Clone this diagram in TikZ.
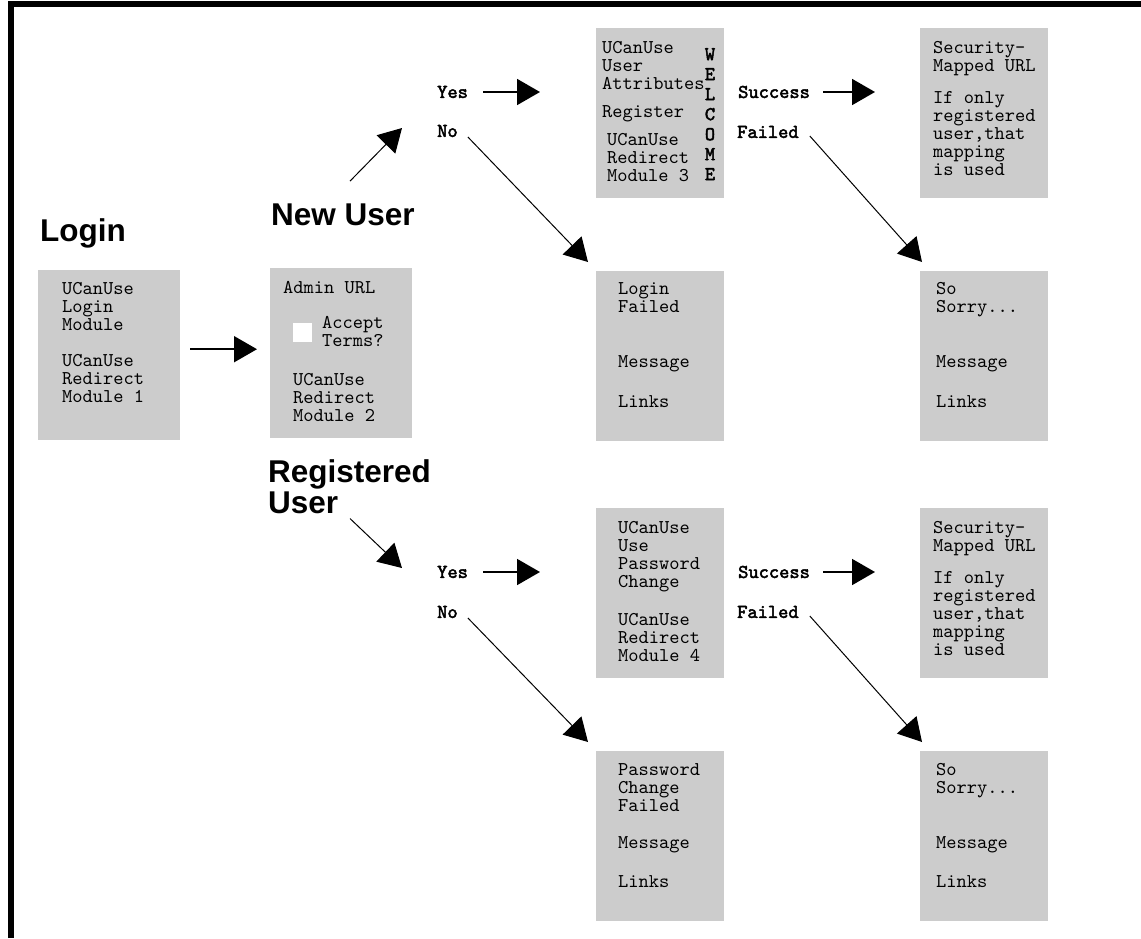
\documentclass[tikz,border=0pt]{standalone}
\usepackage{fontspec}
\setsansfont{Liberation Sans}
\setmonofont{lmmono10-regular.otf}
\newfontfamily\monobold{lmmono10-regular.otf}[FakeBold=2.5]
\usetikzlibrary{arrows.meta}
\definecolor{boxgray}{RGB}{204,204,204}
\begin{document}
\begin{tikzpicture}[x=1pt,y=-1pt,>={Triangle[length=23pt,width=26pt]},
	box/.style={fill=boxgray,anchor=north west,inner sep=0pt,minimum width=#1,minimum height=170pt},
	box/.default=128pt,
	txt/.style={anchor=north west,inner sep=0pt,align=left,font=\ttfamily\fontsize{19.5}{18}\selectfont},
	lbl/.style={anchor=west,inner sep=0pt,font=\monobold\fontsize{19.5}{18}\selectfont},
	head/.style={inner sep=0pt,align=left,font=\sffamily\bfseries\fontsize{31.5}{31}\selectfont},
	arr/.style={->,line width=1.8pt},
	thinarr/.style={->,line width=1pt}]
	\useasboundingbox (0,0) rectangle (1141,938);
	\draw[line width=6pt] (11,938)--(11,4)--(1141,4);
	% boxes
	\node[box=142pt] (login) at (38,270) {};
	\node[box=142pt] (admin) at (270,268) {};
	\node[box] (reg) at (596,28) {};
	\node[box] (secA) at (920,28) {};
	\node[box] (lfail) at (596,271) {};
	\node[box] (sorryA) at (920,271) {};
	\node[box] (pwd) at (596,508) {};
	\node[box] (secB) at (920,508) {};
	\node[box] (pfail) at (596,751) {};
	\node[box] (sorryB) at (920,751) {};
	\node[txt] (login-t) at ([shift={(24,12)}]login.north west) {UCanUse\\Login\\Module\\[18pt]UCanUse\\Redirect\\Module 1};
	\node[txt] (admin-t) at ([shift={(13,13)}]admin.north west) {Admin URL};
	\node[fill=white,inner sep=0pt,minimum size=19pt,anchor=north west] (chk) at ([shift={(23,55)}]admin.north west) {};
	\node[txt] (terms) at ([shift={(52,48)}]admin.north west) {Accept\\Terms?};
	\node[txt] (admin-m) at ([shift={(23,105)}]admin.north west) {UCanUse\\Redirect\\Module 2};
	\node[txt] (reg-t) at ([shift={(6,13)}]reg.north west) {UCanUse\\User\\Attributes\\[10pt]Register};
	\node[txt] (reg-m) at ([shift={(11,105)}]reg.north west) {UCanUse\\Redirect\\Module 3};
	\node[txt,anchor=north,align=center,font=\monobold\fontsize{19.5}{20}\selectfont] (welcome) at ([shift={(114,20)}]reg.north west) {W\\E\\L\\C\\O\\M\\E};
	\node[txt] (secA-t) at ([shift={(13,13)}]secA.north west) {Security-\\Mapped URL\\[14pt]If only\\registered\\user,that\\mapping\\is used};
	\node[txt] (lfail-t) at ([shift={(22,11)}]lfail.north west) {Login\\Failed\\[37pt]Message\\[22pt]Links};
	\node[txt] (sorryA-t) at ([shift={(16,11)}]sorryA.north west) {So\\Sorry...\\[37pt]Message\\[22pt]Links};
	\node[txt] (pwd-t) at ([shift={(22,13)}]pwd.north west) {UCanUse\\Use\\Password\\Change\\[20pt]UCanUse\\Redirect\\Module 4};
	\node[txt] (secB-t) at ([shift={(13,13)}]secB.north west) {Security-\\Mapped URL\\[14pt]If only\\registered\\user,that\\mapping\\is used};
	\node[txt] (pfail-t) at ([shift={(22,12)}]pfail.north west) {Password\\Change\\Failed\\[19pt]Message\\[21pt]Links};
	\node[txt] (sorryB-t) at ([shift={(16,12)}]sorryB.north west) {So\\Sorry...\\[37pt]Message\\[21pt]Links};
	% labels
	\node[head,anchor=base west] (login-h) at (40,241) {Login};
	\node[head,anchor=base west] (newu) at (271,225) {New User};
	\node[head,anchor=north west] (regu) at (268,459) {Registered\\User};
	\node[lbl] (yesA) at (437,92) {Yes};
	\node[lbl] (noA) at (437,131) {No};
	\node[lbl] (sucA) at (738,92) {Success};
	\node[lbl] (failA) at (737,132) {Failed};
	\node[lbl] (yesB) at (437,572) {Yes};
	\node[lbl] (noB) at (437,612) {No};
	\node[lbl] (sucB) at (738,572) {Success};
	\node[lbl] (failB) at (737,612) {Failed};
	% arrows
	\draw[arr] ([shift={(10,-6)}]login.east)--([shift={(-13,-6)}]login.east -| admin.west);
	\draw[thinarr] ([shift={(7,-22)}]newu.north)--([shift={(-35,-3)}]noA.west);
	\draw[thinarr] ([shift={(82,5)}]regu.south west)--([shift={(-35,-4)}]yesB.west);
	\draw[arr] ([xshift=15pt]yesA.east)--([xshift=-56pt]yesA.east -| reg.west);
	\draw[thinarr] ([shift={(10,6)}]noA.east)--([shift={(-8,-9)}]lfail.north west);
	\draw[arr] ([xshift=13pt]sucA.east)--([xshift=-45pt]sucA.east -| secA.west);
	\draw[thinarr] ([shift={(11,4)}]failA.east)--([shift={(2,-9)}]sorryA.north west);
	\draw[arr] ([xshift=15pt]yesB.east)--([xshift=-56pt]yesB.east -| pwd.west);
	\draw[thinarr] ([shift={(10,6)}]noB.east)--([shift={(-8,-9)}]pfail.north west);
	\draw[arr] ([xshift=13pt]sucB.east)--([xshift=-45pt]sucB.east -| secB.west);
	\draw[thinarr] ([shift={(11,4)}]failB.east)--([shift={(2,-9)}]sorryB.north west);
\end{tikzpicture}
\end{document}
